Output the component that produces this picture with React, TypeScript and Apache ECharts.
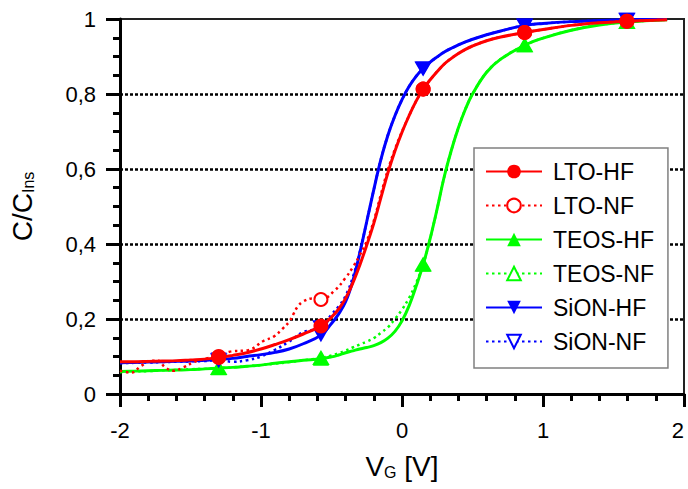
import React, { useEffect, useRef } from "react";
import * as echarts from "echarts";

// Gate voltage grid shared by the HF curves and the TEOS/SiON NF curves
const VG = [
  -2.0, -1.9, -1.8, -1.7, -1.6, -1.5, -1.4, -1.3, -1.2, -1.1,
  -1.0, -0.9, -0.8, -0.7, -0.575, -0.5, -0.45, -0.4, -0.35, -0.3,
  -0.25, -0.2, -0.15, -0.1, -0.05, 0.0, 0.05, 0.1, 0.15, 0.2,
  0.25, 0.3, 0.35, 0.4, 0.45, 0.5, 0.6, 0.7, 0.87, 1.0,
  1.2, 1.4, 1.595, 1.88,
];

// Voltages where the series markers sit
const MARK_VG = [-1.3, -0.575, 0.15, 0.87, 1.595];

const LTO_HF = [
  0.086, 0.086, 0.087, 0.088, 0.089, 0.091, 0.093, 0.097, 0.103, 0.11,
  0.12, 0.132, 0.145, 0.16, 0.181, 0.205, 0.226, 0.255, 0.295, 0.343,
  0.397, 0.455, 0.523, 0.59, 0.648, 0.698, 0.742, 0.781, 0.813, 0.838,
  0.86, 0.88, 0.895, 0.908, 0.919, 0.928, 0.942, 0.952, 0.964, 0.972,
  0.983, 0.99, 0.994, 0.998,
];

// LTO-NF has its own, denser sampling at low bias
const LTO_NF_VG = [
  -2.0, -1.92, -1.85, -1.78, -1.73, -1.68, -1.62, -1.55, -1.47, -1.385,
  -1.3, -1.22, -1.09, -0.98, -0.91, -0.85, -0.8, -0.77, -0.74, -0.7,
  -0.63, -0.575, -0.475, -0.4, -0.345, -0.3, -0.25, -0.2, -0.15, -0.1,
  -0.05, 0.0, 0.05, 0.1, 0.15, 0.2, 0.3, 0.4, 0.5, 0.6,
  0.7, 0.87, 1.0, 1.2, 1.4, 1.595, 1.88,
];
const LTO_NF = [
  0.062, 0.057, 0.075, 0.089, 0.089, 0.071, 0.062, 0.071, 0.086, 0.095,
  0.1, 0.113, 0.117, 0.142, 0.153, 0.173, 0.193, 0.213, 0.233, 0.247,
  0.255, 0.252, 0.277, 0.31, 0.34, 0.37, 0.408, 0.462, 0.532, 0.598,
  0.653, 0.7, 0.742, 0.781, 0.813, 0.838, 0.88, 0.908, 0.928, 0.942,
  0.952, 0.964, 0.972, 0.983, 0.99, 0.994, 0.998,
];

const TEOS_HF = [
  0.06, 0.061, 0.062, 0.063, 0.064, 0.065, 0.067, 0.069, 0.071, 0.074,
  0.077, 0.082, 0.086, 0.09, 0.094, 0.099, 0.104, 0.11, 0.115, 0.12,
  0.124, 0.129, 0.137, 0.149, 0.167, 0.195, 0.235, 0.287, 0.345, 0.415,
  0.495, 0.58, 0.65, 0.71, 0.76, 0.8, 0.858, 0.893, 0.93, 0.949,
  0.97, 0.984, 0.992, 0.998,
];

const TEOS_NF = [
  0.058, 0.06, 0.061, 0.063, 0.064, 0.066, 0.067, 0.069, 0.071, 0.074,
  0.077, 0.081, 0.085, 0.09, 0.096, 0.103, 0.109, 0.116, 0.124, 0.132,
  0.14, 0.149, 0.163, 0.178, 0.2, 0.225, 0.256, 0.296, 0.345, 0.415,
  0.495, 0.58, 0.65, 0.71, 0.76, 0.8, 0.858, 0.893, 0.93, 0.949,
  0.97, 0.984, 0.992, 0.998,
];

const SION_HF = [
  0.083, 0.084, 0.085, 0.086, 0.087, 0.088, 0.09, 0.092, 0.095, 0.1,
  0.105, 0.111, 0.12, 0.134, 0.157, 0.188, 0.213, 0.246, 0.3, 0.375,
  0.46, 0.545, 0.625, 0.69, 0.742, 0.785, 0.82, 0.847, 0.868, 0.885,
  0.899, 0.912, 0.922, 0.931, 0.939, 0.946, 0.958, 0.968, 0.983, 0.988,
  0.993, 0.996, 0.998, 0.999,
];

const SION_NF = [
  0.082, 0.083, 0.084, 0.085, 0.086, 0.087, 0.088, 0.09, 0.086, 0.09,
  0.1, 0.118, 0.14, 0.165, 0.178, 0.212, 0.233, 0.262, 0.31, 0.378,
  0.46, 0.545, 0.625, 0.69, 0.742, 0.785, 0.82, 0.847, 0.868, 0.885,
  0.899, 0.912, 0.922, 0.931, 0.939, 0.946, 0.958, 0.968, 0.983, 0.988,
  0.993, 0.996, 0.998, 0.999,
];

const LEGEND_NAMES = ["LTO-HF", "LTO-NF", "TEOS-HF", "TEOS-NF", "SiON-HF", "SiON-NF"];

const RED = "#ff0000";
const GREEN = "#00ff00";
const BLUE = "#0000ff";
const FONT = "'Liberation Sans', Arial, Helvetica, sans-serif";

// Build line data; only the marker voltages carry a symbol
function points(xs: number[], ys: number[]) {
  return xs.map((x, i) =>
    MARK_VG.includes(x) ? [x, ys[i]] : { value: [x, ys[i]], symbol: "none" }
  );
}

function lineSeries(
  name: string,
  xs: number[],
  ys: number[],
  color: string,
  hf: boolean,
  shape: "circle" | "triangle",
  rotate: number,
  z: number
) {
  const size = shape === "circle" ? (hf ? 15 : 13) : hf ? [16, 14] : [14, 12];
  return {
    name,
    type: "line",
    data: points(xs, ys),
    smooth: 0.4,
    showSymbol: true,
    showAllSymbol: true,
    symbol: hf ? shape : shape === "circle" ? "emptyCircle" : "emptyTriangle",
    symbolSize: size,
    symbolRotate: rotate,
    z,
    lineStyle: hf
      ? { color, width: 3 }
      : { color, width: 2.5, type: [2.5, 3.5] },
    itemStyle: hf ? { color } : { color, borderColor: color, borderWidth: 2 },
    emphasis: { disabled: true },
  };
}

const titleRich = {
  m: { fontSize: 28, fontFamily: FONT, color: "#000", verticalAlign: "bottom" },
  s: { fontSize: 16, fontFamily: FONT, color: "#000", verticalAlign: "bottom", padding: [13, 0, 0, 0] },
};

export default function App() {
  const ref = useRef<HTMLDivElement>(null);

  useEffect(() => {
    if (!ref.current) return;
    const chart = echarts.init(ref.current, undefined, { renderer: "svg" });

    const tickLabel = (v: number) =>
      v === 0 || v === 1 ? String(v) : v.toFixed(1).replace(".", ",");

    chart.setOption({
      animation: false,
      backgroundColor: "#fff",
      grid: {
        left: 120,
        right: 4,
        top: 19,
        bottom: 95,
        show: true,
        borderColor: "#222",
        borderWidth: 2,
        backgroundColor: "transparent",
      },
      xAxis: {
        type: "value",
        min: -2,
        max: 2,
        interval: 1,
        axisLine: { onZero: false, lineStyle: { color: "#000", width: 3 } },
        axisTick: { length: 13, lineStyle: { color: "#000", width: 3 } },
        minorTick: { show: true, splitNumber: 5, length: 7, lineStyle: { color: "#000", width: 3 } },
        splitLine: { show: false },
        axisLabel: {
          fontSize: 22,
          margin: 25,
          color: "#000",
          fontFamily: FONT,
          alignMaxLabel: "right",
        },
        name: "{m|V}{s|G}{m| [V]}",
        nameLocation: "middle",
        nameGap: 57,
        nameTextStyle: { color: "#000", fontFamily: FONT, rich: titleRich },
      },
      yAxis: {
        type: "value",
        min: 0,
        max: 1,
        interval: 0.2,
        axisLine: { onZero: false, lineStyle: { color: "#000", width: 3 } },
        axisTick: { length: 14, lineStyle: { color: "#000", width: 3 } },
        minorTick: { show: true, splitNumber: 4, length: 7, lineStyle: { color: "#000", width: 3 } },
        splitLine: {
          show: true,
          showMinLine: false,
          showMaxLine: false,
          lineStyle: { color: "#000", width: 2.5, type: [3, 2] },
        },
        axisLabel: { fontSize: 22, margin: 24, color: "#000", fontFamily: FONT, formatter: tickLabel },
        name: "{m|C/C}{s|Ins}",
        nameLocation: "middle",
        nameGap: 84,
        nameTextStyle: { color: "#000", fontFamily: FONT, rich: titleRich },
      },
      legend: {
        data: LEGEND_NAMES,
        orient: "vertical",
        left: 474,
        top: 148,
        padding: [12, 14, 15, 11],
        itemGap: 11,
        itemWidth: 56,
        itemHeight: 17,
        backgroundColor: "#fff",
        borderColor: "#808080",
        borderWidth: 1.5,
        borderRadius: 0,
        selectedMode: false,
        textStyle: {
          fontSize: 23,
          color: "#000",
          fontFamily: FONT,
          padding: [0, 0, 0, 6],
        },
      },
      series: [
        lineSeries("LTO-HF", VG, LTO_HF, RED, true, "circle", 0, 8),
        lineSeries("LTO-NF", LTO_NF_VG, LTO_NF, RED, false, "circle", 0, 7),
        lineSeries("TEOS-HF", VG, TEOS_HF, GREEN, true, "triangle", 0, 4),
        lineSeries("TEOS-NF", VG, TEOS_NF, GREEN, false, "triangle", 0, 3),
        lineSeries("SiON-HF", VG, SION_HF, BLUE, true, "triangle", 180, 6),
        lineSeries("SiON-NF", VG, SION_NF, BLUE, false, "triangle", 180, 5),
      ],
    });

    return () => chart.dispose();
  }, []);

  return (
    <div
      ref={ref}
      style={{ position: "absolute", left: 0, top: 0, width: 688, height: 489 }}
    />
  );
}
